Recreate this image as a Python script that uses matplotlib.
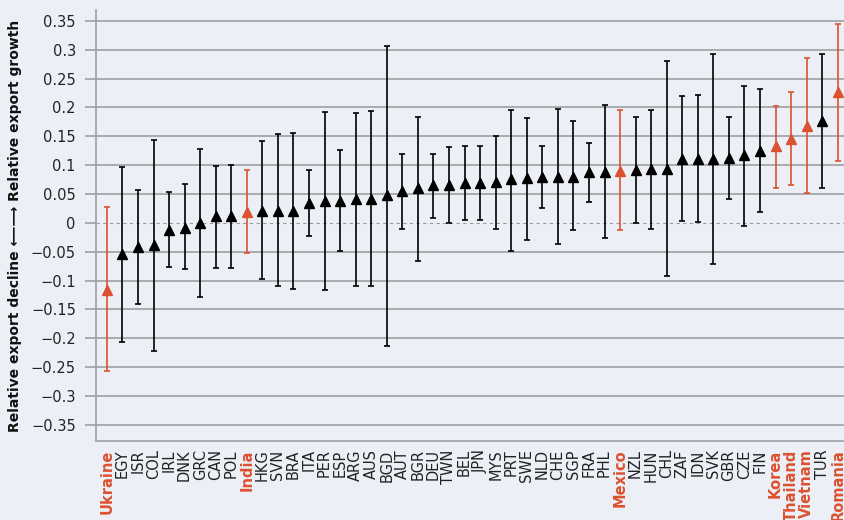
import numpy as np
import matplotlib
matplotlib.use("Agg")
import matplotlib.pyplot as plt

# countries, sorted by point estimate
countries = ["Ukraine", "EGY", "ISR", "COL", "IRL", "DNK", "GRC", "CAN", "POL", "India",
             "HKG", "SVN", "BRA", "ITA", "PER", "ESP", "ARG", "AUS", "BGD", "AUT",
             "BGR", "DEU", "TWN", "BEL", "JPN", "MYS", "PRT", "SWE", "NLD", "CHE",
             "SGP", "FRA", "PHL", "Mexico", "NZL", "HUN", "CHL", "ZAF", "IDN", "SVK",
             "GBR", "CZE", "FIN", "Korea", "Thailand", "Vietnam", "TUR", "Romania"]
estimate = [-0.117, -0.054, -0.042, -0.039, -0.012, -0.009, -0.001, 0.011, 0.012, 0.019,
            0.021, 0.021, 0.021, 0.035, 0.037, 0.037, 0.041, 0.042, 0.048, 0.056,
            0.060, 0.065, 0.065, 0.069, 0.069, 0.071, 0.076, 0.078, 0.080, 0.080,
            0.080, 0.088, 0.088, 0.090, 0.091, 0.093, 0.094, 0.110, 0.110, 0.110,
            0.112, 0.117, 0.125, 0.133, 0.145, 0.167, 0.176, 0.227]
upper = [0.027, 0.096, 0.057, 0.143, 0.054, 0.068, 0.128, 0.099, 0.101, 0.092,
         0.141, 0.154, 0.156, 0.092, 0.192, 0.127, 0.190, 0.194, 0.307, 0.120,
         0.184, 0.120, 0.131, 0.133, 0.133, 0.151, 0.196, 0.181, 0.133, 0.198,
         0.176, 0.139, 0.204, 0.195, 0.184, 0.195, 0.281, 0.220, 0.222, 0.293,
         0.184, 0.237, 0.232, 0.203, 0.227, 0.285, 0.293, 0.345]
lower = [-0.257, -0.207, -0.140, -0.222, -0.076, -0.080, -0.129, -0.079, -0.079, -0.053,
         -0.097, -0.109, -0.114, -0.022, -0.116, -0.049, -0.109, -0.109, -0.213, -0.010,
         -0.066, 0.008, 0.000, 0.005, 0.005, -0.011, -0.049, -0.030, 0.025, -0.036,
         -0.013, 0.036, -0.027, -0.013, -0.001, -0.010, -0.093, 0.003, 0.002, -0.071,
         0.042, -0.005, 0.019, 0.061, 0.065, 0.051, 0.061, 0.107]
highlight = ["Ukraine", "India", "Mexico", "Korea", "Thailand", "Vietnam", "Romania"]

yticks = [-0.35, -0.3, -0.25, -0.2, -0.15, -0.1, -0.05, 0, 0.05, 0.1, 0.15, 0.2, 0.25, 0.3, 0.35]
ytick_labels = ["\u22120.35", "\u22120.3", "\u22120.25", "\u22120.2", "\u22120.15", "\u22120.1",
                "\u22120.05", "0", "0.05", "0.1", "0.15", "0.2", "0.25", "0.3", "0.35"]

bg = "#ecf0f6"
red = "#dc5230"
grid = "#a3a5a8"

plt.rcParams['font.family'] = ['DejaVu Sans']

fig = plt.figure(figsize=(8.44, 5.2), dpi=100, facecolor=bg)
ax = fig.add_axes([0.1137, 0.152, 0.8863, 0.829])
ax.set_facecolor(bg)

x = np.arange(len(countries))
est = np.array(estimate)
up = np.array(upper)
lo = np.array(lower)

for yt in yticks:
    if yt == 0:
        ax.axhline(0, color="#9a9a9a", lw=0.8, ls=(0, (3, 3)), zorder=1)
    else:
        ax.axhline(yt, color=grid, lw=1.3, zorder=1)

for i, c in enumerate(countries):
    col = red if c in highlight else "black"
    ax.errorbar(x[i], est[i], yerr=[[est[i] - lo[i]], [up[i] - est[i]]],
                fmt="^", color=col, ecolor=col, elinewidth=1.2, capsize=2.5,
                capthick=1.2, markersize=7, zorder=3)

ax.set_xlim(-0.7, 47.4)
ax.set_ylim(-0.378, 0.369)
ax.set_yticks(yticks)
ax.set_yticklabels(ytick_labels, fontsize=10.5, color="#222222")
ax.tick_params(axis="y", length=8, width=1.3, color=grid, pad=6.5)
ax.set_xticks(x)
ax.set_xticklabels(countries, rotation=90, fontsize=10.5, color="#222222")
ax.tick_params(axis="x", length=0, pad=6)
for lab in ax.get_xticklabels():
    if lab.get_text() in highlight:
        lab.set_color(red)
        lab.set_fontweight("bold")

for s in ["top", "right"]:
    ax.spines[s].set_visible(False)
for s in ["left", "bottom"]:
    ax.spines[s].set_color(grid)
    ax.spines[s].set_linewidth(1.3)

ax.set_ylabel("Relative export decline \u27F5\u27F6 Relative export growth",
              fontsize=10, fontweight="bold", color="#111111", labelpad=6)

fig.savefig("out.png", dpi=100, facecolor=bg)
